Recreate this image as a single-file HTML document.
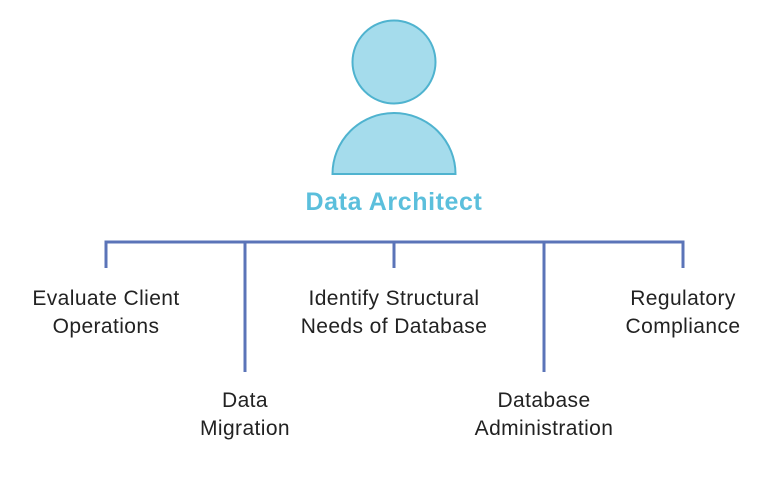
<!DOCTYPE html>
<html><head><style>
body{margin:0;background:#fff;}
svg text{font-family:"Liberation Sans",Arial,sans-serif;}
</style></head><body>
<svg width="761" height="474" viewBox="0 0 761 474" xmlns="http://www.w3.org/2000/svg">
<circle cx="394" cy="62" r="41.5" fill="#a5dcec" stroke="#4fb3cf" stroke-width="2"/>
<path d="M332.5 174 A61.5 61 0 0 1 455.5 174 Z" fill="#a5dcec" stroke="#4fb3cf" stroke-width="2"/>
<text x="394" y="210" text-anchor="middle" font-size="25" font-weight="bold" fill="#5bbfdc" letter-spacing="0.6">Data Architect</text>
<g stroke="#5b74b8" stroke-width="3" fill="none">
<path d="M106 268 V242 H683 V268"/>
<path d="M245 242 V372"/>
<path d="M394 242 V268"/>
<path d="M544 242 V372"/>
</g>
<g font-size="21" fill="#222" text-anchor="middle" letter-spacing="0.4">
<text x="106" y="305">Evaluate Client</text>
<text x="106" y="333">Operations</text>
<text x="394" y="305">Identify Structural</text>
<text x="394" y="333">Needs of Database</text>
<text x="683" y="305">Regulatory</text>
<text x="683" y="333">Compliance</text>
<text x="245" y="407">Data</text>
<text x="245" y="435">Migration</text>
<text x="544" y="407">Database</text>
<text x="544" y="435">Administration</text>
</g>
</svg>
</body></html>
